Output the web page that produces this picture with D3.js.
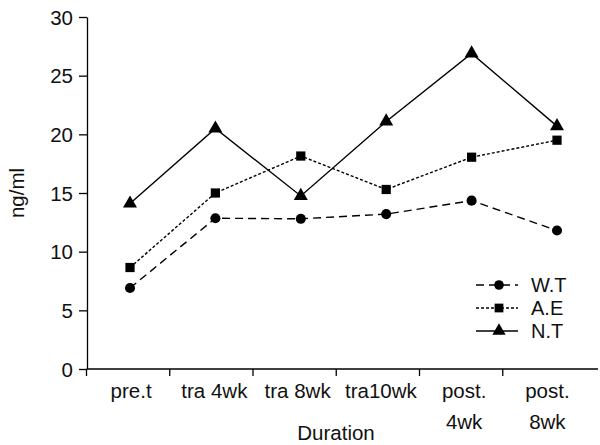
<!DOCTYPE html>
<head>
<meta charset="utf-8">
<script src="https://d3js.org/d3.v7.min.js"></script>
</head>
<style>
body { margin: 0; background: #fff; }
text { font-family: "Liberation Sans", Arial, sans-serif; fill: #111; }
.line { fill: none; stroke: #000; stroke-width: 1.4px; }
#wt { stroke-dasharray: 8,5; }
#ae { stroke-dasharray: 3,2; }
</style>
<body>
<script>
var categories = ["pre.t", "tra 4wk", "tra 8wk", "tra10wk", "post.|4wk", "post.|8wk"];
var wt = [6.9, 12.85, 12.8, 13.2, 14.35, 11.8];
var ae = [8.65, 15.0, 18.15, 15.3, 18.05, 19.5];
var nt = [14.1, 20.5, 14.75, 21.1, 26.9, 20.7];
var yTicks = [0, 5, 10, 15, 20, 25, 30];

var width = 600, height = 445;
var svg = d3.select("body").append("svg")
    .attr("width", width)
    .attr("height", height);

var y = d3.scaleLinear().domain([0, 30]).range([369, 17]);
// axis bands (ticks sit between categories)
var xb = d3.scaleBand().domain(categories).range([86.5, 586]);
// data points
var x = d3.scalePoint().domain(categories).range([130, 557]);

// y axis
var yAxis = svg.append("g")
    .attr("transform", "translate(87,0)")
    .call(d3.axisLeft(y).tickValues(yTicks).tickSize(8).tickPadding(6).tickSizeOuter(0));
yAxis.selectAll("text").style("font-size", "20.5px").attr("dy", "0.35em");
yAxis.selectAll("line, path").attr("stroke", "#000").attr("stroke-width", 1.3);

// x axis line
svg.append("line")
    .attr("x1", 86.5).attr("x2", 598)
    .attr("y1", y(0)).attr("y2", y(0))
    .attr("stroke", "#000").attr("stroke-width", 1.3);
svg.selectAll(".xtick")
    .data(categories)
    .enter().append("line")
    .attr("x1", function(d) { return xb(d); })
    .attr("x2", function(d) { return xb(d); })
    .attr("y1", y(0)).attr("y2", y(0) + 7)
    .attr("stroke", "#000").attr("stroke-width", 1.3);

var xl = svg.selectAll(".xlab")
    .data(categories)
    .enter().append("text")
    .attr("text-anchor", "middle")
    .style("font-size", "20.5px")
    .attr("transform", function(d) { return "translate(" + (xb(d) + xb.bandwidth() / 2 + 3) + ",398)"; });
xl.each(function(d) {
  var parts = d.split("|");
  var t = d3.select(this);
  parts.forEach(function(p, i) {
    t.append("tspan").attr("x", 0).attr("dy", i === 0 ? 0 : 31).text(p);
  });
});

// axis titles
svg.append("text")
    .attr("x", 336).attr("y", 440)
    .attr("text-anchor", "middle")
    .style("font-size", "20.5px")
    .text("Duration");
svg.append("text")
    .attr("transform", "translate(24,193) rotate(-90)")
    .attr("text-anchor", "middle")
    .style("font-size", "20.5px")
    .text("ng/ml");

var series = [
  {id: "wt", name: "W.T", values: wt, shape: d3.symbolCircle, size: 80},
  {id: "ae", name: "A.E", values: ae, shape: d3.symbolSquare, size: 85},
  {id: "nt", name: "N.T", values: nt, shape: d3.symbolTriangle, size: 85}
];

var line = d3.line()
    .x(function(d, i) { return x(categories[i]); })
    .y(function(d) { return y(d); });

series.forEach(function(s) {
  svg.append("path")
      .datum(s.values)
      .attr("class", "line")
      .attr("id", s.id)
      .attr("d", line);
  svg.selectAll(".m-" + s.id)
      .data(s.values)
      .enter().append("path")
      .attr("d", d3.symbol().type(s.shape).size(s.size))
      .attr("transform", function(d, i) { return "translate(" + x(categories[i]) + "," + y(d) + ")"; })
      .attr("fill", "#000");
});

// legend
var legend = svg.append("g");
series.forEach(function(s, i) {
  var ly = 285 + i * 23;
  legend.append("line")
      .attr("class", "line")
      .attr("id", s.id)
      .attr("x1", 476).attr("x2", 518)
      .attr("y1", ly).attr("y2", ly);
  legend.append("path")
      .attr("d", d3.symbol().type(s.shape).size(s.size * 0.9))
      .attr("transform", "translate(499," + ly + ")")
      .attr("fill", "#000");
  legend.append("text")
      .attr("x", 531).attr("y", ly + 7)
      .style("font-size", "20px")
      .text(s.name);
});
</script>
</body>
